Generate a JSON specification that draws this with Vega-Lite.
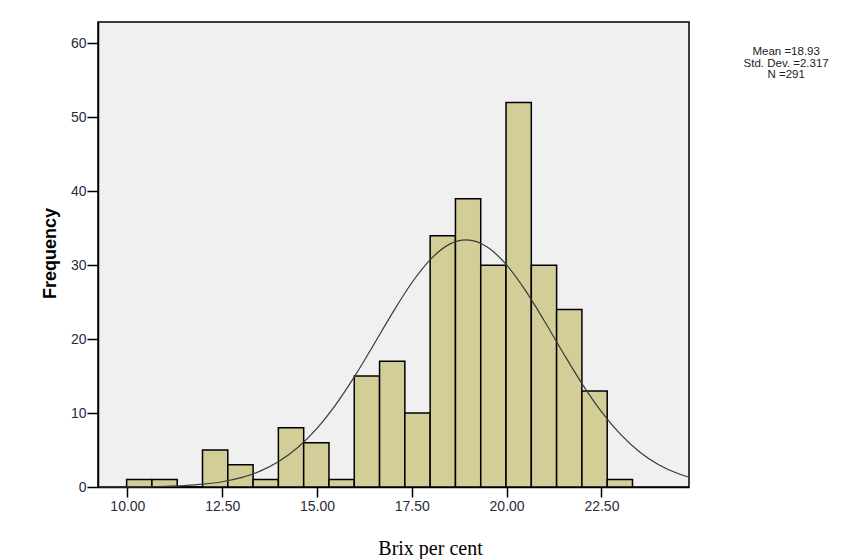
{
  "$schema": "https://vega.github.io/schema/vega-lite/v6.json",
  "autosize": "none",
  "padding": {"left": 98, "top": 22, "right": 171, "bottom": 72},
  "width": 591,
  "height": 465,
  "background": "white",
  "title": {
    "text": ["Mean =18.93", "Std. Dev. =2.317", "N =291"],
    "orient": "right",
    "angle": 0,
    "anchor": "start",
    "align": "center",
    "baseline": "top",
    "offset": 96,
    "dx": -86,
    "dy": 24,
    "font": "Liberation Sans",
    "fontSize": 11.5,
    "fontWeight": "normal",
    "lineHeight": 11.5,
    "color": "#222"
  },
  "config": {
    "view": {"fill": "#F0F0F0", "stroke": "black", "strokeWidth": 1.5},
    "axis": {
      "grid": false,
      "domainColor": "black",
      "domainWidth": 1.5,
      "tickColor": "black",
      "tickWidth": 1.5,
      "labelFont": "Liberation Sans",
      "labelFontSize": 14,
      "labelColor": "#2a2a3a"
    }
  },
  "datasets": {
    "bins": [
      {"start": 9.98, "end": 10.647, "count": 1},
      {"start": 10.647, "end": 11.314, "count": 1},
      {"start": 11.314, "end": 11.981, "count": 0},
      {"start": 11.981, "end": 12.648, "count": 5},
      {"start": 12.648, "end": 13.315, "count": 3},
      {"start": 13.315, "end": 13.982, "count": 1},
      {"start": 13.982, "end": 14.649, "count": 8},
      {"start": 14.649, "end": 15.316, "count": 6},
      {"start": 15.316, "end": 15.983, "count": 1},
      {"start": 15.983, "end": 16.65, "count": 15},
      {"start": 16.65, "end": 17.317, "count": 17},
      {"start": 17.317, "end": 17.984, "count": 10},
      {"start": 17.984, "end": 18.651, "count": 34},
      {"start": 18.651, "end": 19.318, "count": 39},
      {"start": 19.318, "end": 19.985, "count": 30},
      {"start": 19.985, "end": 20.652, "count": 52},
      {"start": 20.652, "end": 21.319, "count": 30},
      {"start": 21.319, "end": 21.986, "count": 24},
      {"start": 21.986, "end": 22.653, "count": 13},
      {"start": 22.653, "end": 23.32, "count": 1}
    ],
    "curve": [
      {"x": 9.25, "y": 0.005},
      {"x": 10, "y": 0.02},
      {"x": 11, "y": 0.096},
      {"x": 11.5, "y": 0.195},
      {"x": 12, "y": 0.381},
      {"x": 12.5, "y": 0.711},
      {"x": 13, "y": 1.264},
      {"x": 13.5, "y": 2.145},
      {"x": 14, "y": 3.475},
      {"x": 14.5, "y": 5.373},
      {"x": 15, "y": 7.93},
      {"x": 15.5, "y": 11.172},
      {"x": 16, "y": 15.023},
      {"x": 16.5, "y": 19.281},
      {"x": 17, "y": 23.624},
      {"x": 17.5, "y": 27.625},
      {"x": 18, "y": 30.834},
      {"x": 18.5, "y": 32.85},
      {"x": 18.93, "y": 33.42},
      {"x": 19.5, "y": 32.424},
      {"x": 20, "y": 30.04},
      {"x": 20.5, "y": 26.564},
      {"x": 21, "y": 22.424},
      {"x": 21.5, "y": 18.066},
      {"x": 22, "y": 13.892},
      {"x": 22.5, "y": 10.197},
      {"x": 23, "y": 7.145},
      {"x": 23.5, "y": 4.778},
      {"x": 24, "y": 3.05},
      {"x": 24.5, "y": 1.859},
      {"x": 24.8, "y": 1.35}
    ]
  },
  "layer": [
    {
      "data": {"name": "bins"},
      "mark": {"type": "rect", "fill": "#D3CE97", "stroke": "black", "strokeWidth": 1.5},
      "encoding": {
        "x": {
          "field": "start",
          "type": "quantitative",
          "scale": {"domain": [9.225, 24.81], "nice": false, "zero": false},
          "axis": {
            "values": [10, 12.5, 15, 17.5, 20, 22.5],
            "format": ".2f",
            "tickSize": 10,
            "labelPadding": 2,
            "title": "Brix per cent",
            "titleFont": "Liberation Serif",
            "titleFontSize": 20,
            "titleFontWeight": "normal",
            "titleColor": "black",
            "titleX": 332,
            "titleY": 67,
            "titleAlign": "center",
            "titleBaseline": "alphabetic",
            "titleAnchor": null
          }
        },
        "x2": {"field": "end"},
        "y": {
          "field": "count",
          "type": "quantitative",
          "scale": {"domain": [0, 62.9], "nice": false},
          "axis": {
            "values": [0, 10, 20, 30, 40, 50, 60],
            "format": "d",
            "tickSize": 11,
            "labelPadding": 1,
            "title": "Frequency",
            "titleFont": "Liberation Sans",
            "titleFontSize": 18,
            "titleFontWeight": "bold",
            "titleColor": "black",
            "titleAngle": -90,
            "titleX": -48,
            "titleY": 231,
            "titleAlign": "center",
            "titleBaseline": "middle",
            "titleAnchor": null
          }
        },
        "y2": {"datum": 0}
      }
    },
    {
      "data": {"name": "curve"},
      "mark": {"type": "line", "interpolate": "monotone", "stroke": "#3a3a3a", "strokeWidth": 1.2},
      "encoding": {
        "x": {"field": "x", "type": "quantitative"},
        "y": {"field": "y", "type": "quantitative"}
      }
    }
  ]
}
